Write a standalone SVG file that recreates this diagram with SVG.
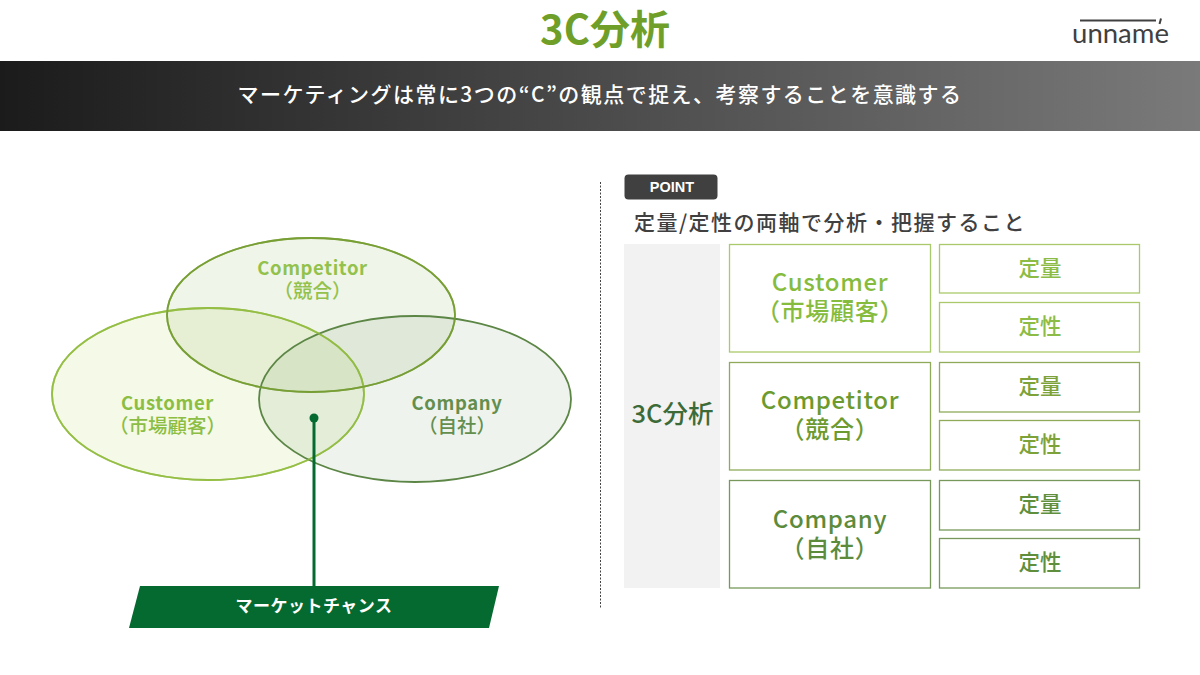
<svg xmlns="http://www.w3.org/2000/svg" width="1200" height="675" viewBox="0 0 1200 675">
<style>
text{font-family:"Noto Sans CJK JP","Noto Sans",sans-serif;text-anchor:middle}
.b{font-weight:700}
.m{font-weight:500}
.g1{fill:#fff;stroke:#a9c96b;stroke-width:1.300}
.g2{fill:#fff;stroke:#8fab5a;stroke-width:1.300}
.g3{fill:#fff;stroke:#77985a;stroke-width:1.300}
.h{font-size:24px;font-weight:500;letter-spacing:.7px}
.s{font-size:21.500px;font-weight:500}
</style>
<defs>
<linearGradient id="bar" x1="0" x2="1" y1="0" y2="0"><stop offset="0" stop-color="#1b1b1b"/><stop offset="1" stop-color="#7a7a7a"/></linearGradient>
</defs>
<rect width="1200" height="675" fill="#fff"/>
<g id="title"><text x="605" y="44" font-size="40" class="b" fill="#6f9f28">3C分析</text></g>
<g id="logo">
<path d="M1080 20.500H1156" stroke="#404040" stroke-width="1.800" fill="none"/>
<path d="M1161 18.500L1159.500 24" stroke="#404040" stroke-width="2" fill="none"/>
<text x="1120.500" y="43" font-size="27.500" fill="#404040" style="font-family:'Lato','Noto Sans',sans-serif">unname</text>
</g>
<g id="banner">
<rect x="0" y="61" width="1200" height="70" fill="url(#bar)"/>
<text x="600" y="102" font-size="21" class="m" fill="#fff" letter-spacing="1.450">マーケティングは常に3つの“C”の観点で捉え、考察することを意識する</text>
</g>
<g id="venn-customer">
<ellipse cx="208" cy="394" rx="156" ry="86" fill="#8fc31f" fill-opacity=".1" stroke="#95bf45" stroke-width="1.800"/>
</g>
<g id="venn-competitor">
<ellipse cx="311" cy="315" rx="144" ry="77" fill="#6a9a25" fill-opacity=".1" stroke="#789f35" stroke-width="1.800"/>
</g>
<g id="venn-company">
<ellipse cx="415" cy="399" rx="156" ry="83" fill="#3f7a35" fill-opacity=".09" stroke="#5c8645" stroke-width="1.800"/>
</g>
<g id="venn-redraw">
<ellipse cx="208" cy="394" rx="156" ry="86" fill="none" stroke="#95bf45" stroke-width="1.800" stroke-opacity=".7"/>
<ellipse cx="311" cy="315" rx="144" ry="77" fill="none" stroke="#789f35" stroke-width="1.800" stroke-opacity=".7"/>
</g>
<g id="venn-labels">
<text x="312.500" y="275" font-size="18.500" class="b" fill="#93c24c" letter-spacing=".6">Competitor</text>
<text x="312.500" y="298" font-size="19.500" class="m" fill="#93c24c">（競合）</text>
<text x="167.500" y="410" font-size="18.500" class="b" fill="#8bbe42" letter-spacing=".6">Customer</text>
<text x="167.500" y="433" font-size="19.500" class="m" fill="#8bbe42">（市場顧客）</text>
<text x="457" y="410" font-size="18.500" class="b" fill="#648e4d" letter-spacing=".6">Company</text>
<text x="457" y="433" font-size="19.500" class="m" fill="#648e4d">（自社）</text>
</g>
<g id="connectors">
<path d="M314 418V587" stroke="#056a30" stroke-width="3" fill="none"/>
<circle cx="314" cy="418" r="4.500" fill="#056a30"/>
<path d="M600.500 182V609" stroke="#444" stroke-width="1" stroke-dasharray="2 1.500" fill="none"/>
</g>
<g id="market-chance">
<polygon points="140,586 499,586 489,628 129,628" fill="#056a30"/>
<text x="314" y="612" font-size="17" class="b" fill="#fff" letter-spacing=".5">マーケットチャンス</text>
</g>
<g id="point">
<rect x="624.500" y="174.500" width="93" height="25" rx="4" fill="#404040"/>
<text x="672" y="191.500" font-size="14.500" fill="#fff" class="b" style="font-family:'Liberation Sans',sans-serif">POINT</text>
</g>
<g id="heading"><text x="830" y="230" font-size="21" class="m" fill="#404040" letter-spacing="1.500">定量/定性の両軸で分析・把握すること</text></g>
<g id="axis">
<rect x="624" y="244" width="96" height="344" fill="#f2f2f2"/>
<text x="672.500" y="423" font-size="25.500" class="m" fill="#3d6b38">3C分析</text>
</g>
<g id="customer">
<rect class="g1" x="729.500" y="244.500" width="201" height="107.500"/>
<text class="h" x="830" y="291" fill="#86bc3e">Customer</text>
<text class="h" x="830" y="320" fill="#86bc3e">（市場顧客）</text>
</g>
<g id="customer-quant"><rect class="g1" x="939.500" y="244.500" width="200" height="48.500"/><text class="s" x="1040" y="276" fill="#8cbc45">定量</text></g>
<g id="customer-qual"><rect class="g1" x="939.500" y="302.500" width="200" height="49.500"/><text class="s" x="1040" y="334" fill="#8cbc45">定性</text></g>
<g id="competitor">
<rect class="g2" x="729.500" y="362.500" width="201" height="107.500"/>
<text class="h" x="830" y="409" fill="#6c9a2e">Competitor</text>
<text class="h" x="830" y="438" fill="#6c9a2e">（競合）</text>
</g>
<g id="competitor-quant"><rect class="g2" x="939.500" y="362.500" width="200" height="49.500"/><text class="s" x="1040" y="394" fill="#7da23a">定量</text></g>
<g id="competitor-qual"><rect class="g2" x="939.500" y="420.500" width="200" height="49.500"/><text class="s" x="1040" y="452" fill="#7da23a">定性</text></g>
<g id="company">
<rect class="g3" x="729.500" y="480.500" width="201" height="107.500"/>
<text class="h" x="830" y="528" fill="#5c8b3c">Company</text>
<text class="h" x="830" y="557" fill="#5c8b3c">（自社）</text>
</g>
<g id="company-quant"><rect class="g3" x="939.500" y="480.500" width="200" height="49.500"/><text class="s" x="1040" y="512" fill="#5f8f3c">定量</text></g>
<g id="company-qual"><rect class="g3" x="939.500" y="538.500" width="200" height="49.500"/><text class="s" x="1040" y="570" fill="#5f8f3c">定性</text></g>
</svg>
